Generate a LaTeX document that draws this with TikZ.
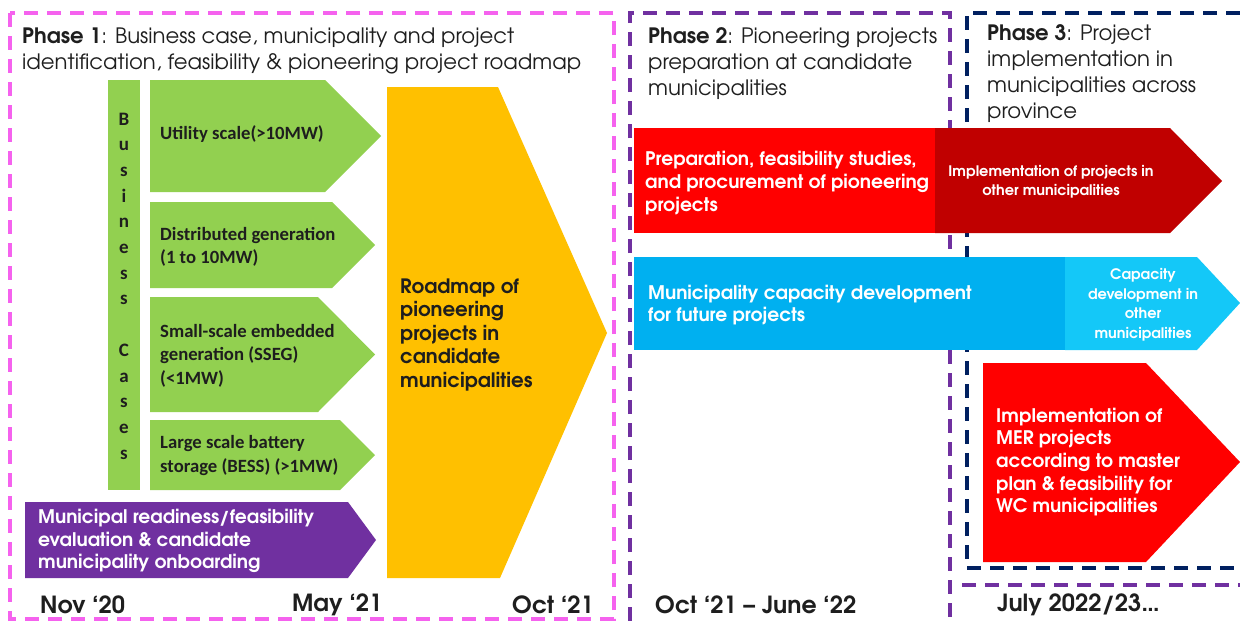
\documentclass[tikz,border=0pt]{standalone}
\usepackage{fontspec}
\setmainfont{texgyreadventor}[Extension=.otf, UprightFont=*-regular, BoldFont=*-bold, ItalicFont=*-italic, BoldItalicFont=*-bolditalic]
\newfontfamily\calfont{Carlito}
\definecolor{mag}{HTML}{F562EE}
\definecolor{pur}{HTML}{7030A0}
\definecolor{navy}{HTML}{002060}
\definecolor{grn}{HTML}{92D050}
\definecolor{gold}{HTML}{FFC000}
\definecolor{rd}{HTML}{FF0000}
\definecolor{drd}{HTML}{C00000}
\definecolor{blu}{HTML}{00B0F0}
\definecolor{lblu}{HTML}{14C8F8}
\definecolor{ink}{HTML}{1E1E1E}
\begin{document}
\begin{tikzpicture}[x=1pt,y=-1pt,
  dashbox/.style={line width=3.2pt, dash pattern=on 14pt off 9pt},
  ph/.style={font=\fontsize{21.2}{26}\selectfont, align=left, anchor=west, inner sep=0pt, text=ink},
  dt/.style={font=\bfseries\fontsize{23.6}{26}\selectfont, anchor=west, inner sep=0pt, text=ink},
  gtxt/.style={font=\calfont\bfseries\fontsize{18.7}{23.5}\selectfont, align=left, anchor=west, inner sep=0pt, text=ink},
  wtxt/.style={font=\bfseries\fontsize{18.7}{22.7}\selectfont, align=left, anchor=west, inner sep=0pt, text=white},
  stxt/.style={font=\bfseries\fontsize{14.5}{19.5}\selectfont, align=center, inner sep=0pt, text=white}]
\useasboundingbox (0,0) rectangle (1240,621);
\fill[white] (0,0) rectangle (1240,621);

% dashed phase frames
\draw[mag, dashbox] (10,13) rectangle (614,619);
\draw[pur, dashbox] (630,621) -- (630,13) -- (950,13) -- (950,621);
\draw[navy, dashbox] (1240,13) -- (967,13) -- (967,568) -- (1240,568);
\draw[pur, dashbox] (962,585) -- (1240,585);

% phase 1 shapes
\fill[grn] (108,80) rectangle (140,490);
\fill[grn] (150,80) -- (325,80) -- (381,136) -- (325,192) -- (150,192) -- cycle;
\fill[grn] (150,202) -- (332,202) -- (375,245) -- (332,288) -- (150,288) -- cycle;
\fill[grn] (150,297) -- (318,297) -- (375,354.5) -- (318,412) -- (150,412) -- cycle;
\fill[grn] (150,420) -- (340,420) -- (375,455) -- (340,490) -- (150,490) -- cycle;
\fill[pur] (25,502) -- (348,502) -- (376,540) -- (348,578) -- (25,578) -- cycle;
\fill[gold] (387,87) -- (498,87) -- (607,333) -- (500,578) -- (387,578) -- cycle;

% phase 2/3 shapes
\fill[rd] (634,128) rectangle (936,233);
\fill[drd] (935,128) -- (1170,128) -- (1222,181) -- (1170,233) -- (935,233) -- cycle;
\fill[blu] (634,257) rectangle (1066,350);
\fill[lblu] (1065,257) -- (1197,257) -- (1240,303) -- (1197,350) -- (1065,350) -- cycle;
\fill[rd] (983,363) -- (1146,363) -- (1240,462) -- (1146,562) -- (983,562) -- cycle;

% titles
\node[ph] (t1) at (22,51) {\textbf{Phase 1}: Business case, municipality and project\\identification, feasibility \& pioneering project roadmap};
\node[ph] (t2) at (648,64) {\textbf{Phase 2}: Pioneering projects\\preparation at candidate\\municipalities};
\node[ph] (t3) at (987,73.5) {\textbf{Phase 3}: Project\\implementation in\\municipalities across\\province};

% business cases
\node[font=\calfont\bfseries\fontsize{19}{25.7}\selectfont, align=center, inner sep=0pt, text=ink] (bc) at (124,286)
  {B\\u\\s\\i\\n\\e\\s\\s\\\mbox{}\\C\\a\\s\\e\\s};
\node[gtxt] (g1) at (160,134) {Utility scale(>10MW)};
\node[gtxt] (g2) at (160,247) {Distributed generation\\(1 to 10MW)};
\node[gtxt] (g3) at (160,355.5) {Small-scale embedded\\generation (SSEG)\\(<1MW)};
\node[gtxt] (g4) at (160,455.5) {Large scale battery\\storage (BESS) (>1MW)};
\node[wtxt] (mr) at (38,541) {Municipal readiness/feasibility\\evaluation \& candidate\\municipality onboarding};
\node[font=\bfseries\fontsize{19.8}{23.5}\selectfont, align=left, anchor=west, inner sep=0pt, text=ink] (rm) at (400,335)
  {Roadmap of\\pioneering\\projects in\\candidate\\municipalities};

% phase 2/3 texts
\node[wtxt] (pr) at (645,183) {Preparation, feasibility studies,\\and procurement of pioneering\\projects};
\node[stxt] (im) at (1051,182) {Implementation of projects in\\other municipalities};
\node[wtxt] (cd) at (648,305) {Municipality capacity development\\for future projects};
\node[stxt] (co) at (1143,305) {Capacity\\development in\\other\\municipalities};
\node[wtxt] (mer) at (996,462) {Implementation of\\MER projects\\according to master\\plan \& feasibility for\\WC municipalities};

% dates
\node[dt] (d1) at (40,605) {Nov ‘20};
\node[dt] (d2) at (292,605) {May ‘21};
\node[dt] (d3) at (512,605) {Oct ‘21};
\node[dt] (d4) at (655,605) {Oct ‘21 – June ‘22};
\node[dt] (d5) at (997,605) {July 2022/23…};
\end{tikzpicture}
\end{document}
